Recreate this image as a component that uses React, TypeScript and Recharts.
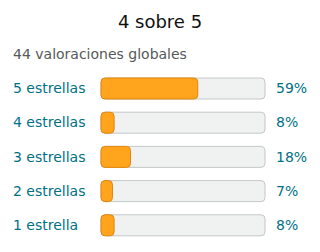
import React from 'react';
import { BarChart, Bar, XAxis, YAxis } from 'recharts';

const categories = ['5 estrellas', '4 estrellas', '3 estrellas', '2 estrellas', '1 estrella'];
const percents = [59, 8, 18, 7, 8];
const title = '4 sobre 5';
const subtitle = '44 valoraciones globales';

const data = categories.map((label, i) => ({ label, pct: percents[i] }));

const FONT = '"DejaVu Sans", sans-serif';
const TEAL = '#007185';

const LeftTick = (props: any) => {
  const { y, payload } = props;
  return (
    <text x={13} y={y} dy={5} fontSize={14} fontFamily={FONT} fill={TEAL} textAnchor="start">
      {payload.value}
    </text>
  );
};

const RightTick = (props: any) => {
  const { x, y, payload } = props;
  const idx = categories.indexOf(payload.value);
  return (
    <text x={x} y={y} dy={5} fontSize={14} fontFamily={FONT} fill={TEAL} textAnchor="start">
      {percents[idx]}%
    </text>
  );
};

export default function App() {
  return (
    <div style={{ position: 'absolute', left: 0, top: 0, width: 320, height: 252, background: '#fff' }}>
      <div
        style={{
          position: 'absolute', left: 0, top: 11, width: 320, textAlign: 'center',
          fontFamily: FONT, fontSize: 18, color: '#0F1111', lineHeight: '22px',
        }}
      >
        {title}
      </div>
      <div
        style={{
          position: 'absolute', left: 13, top: 45, fontFamily: FONT, fontSize: 14, color: '#565959', lineHeight: '18px',
        }}
      >
        {subtitle}
      </div>
      <div style={{ position: 'absolute', left: 0, top: 0 }}>
        <BarChart
          width={320}
          height={252}
          data={data}
          layout="vertical"
          margin={{ top: 71, right: 0, left: 0, bottom: 10 }}
        >
          <XAxis type="number" domain={[0, 100]} hide />
          <YAxis
            yAxisId="left"
            type="category"
            dataKey="label"
            width={101}
            axisLine={false}
            tickLine={false}
            tick={<LeftTick />}
          />
          <YAxis
            yAxisId="right"
            orientation="right"
            type="category"
            dataKey="label"
            width={55}
            axisLine={false}
            tickLine={false}
            tickSize={0}
            tickMargin={11}
            tick={<RightTick />}
          />
          <Bar
            yAxisId="left"
            dataKey="pct"
            barSize={21}
            fill="#FFA41C"
            stroke="#E3860F"
            strokeWidth={1}
            radius={4}
            background={{ fill: '#F0F2F2', stroke: '#C4C8C8', strokeWidth: 1, radius: 4 } as any}
            isAnimationActive={false}
          />
        </BarChart>
      </div>
    </div>
  );
}
